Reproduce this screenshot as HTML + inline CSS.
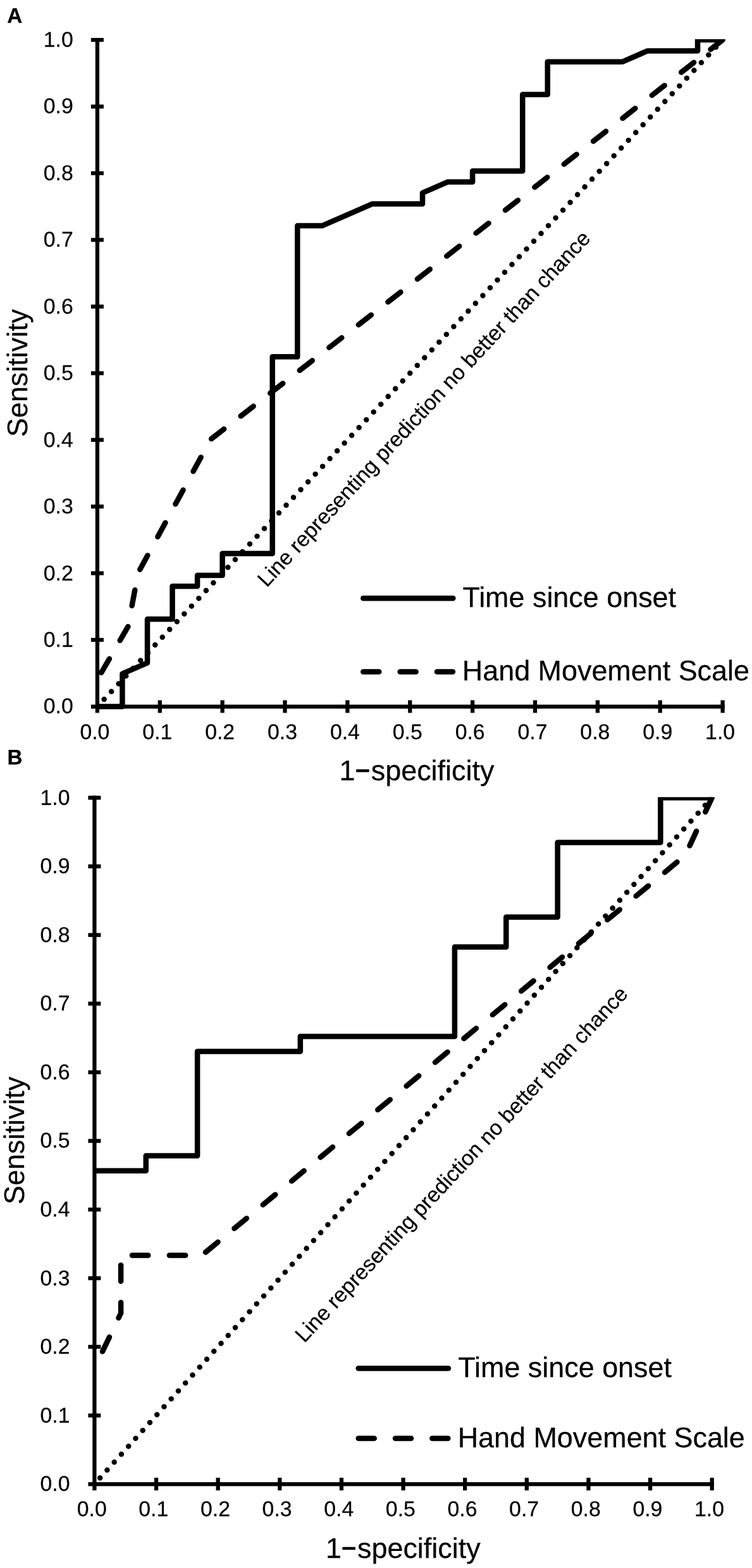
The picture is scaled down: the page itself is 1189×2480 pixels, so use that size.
<!DOCTYPE html>
<html><head><meta charset="utf-8"><title>ROC curves</title>
<style>
html,body{margin:0;padding:0;background:#fff;}
svg{display:block;}
text{font-family:"Liberation Sans", sans-serif;fill:#000;text-rendering:geometricPrecision;stroke:#000;stroke-width:0.25px;}
</style></head><body>
<svg width="1189" height="2480" viewBox="0 0 1189 2480">
<rect width="1189" height="2480" fill="#fff"/>
<clipPath id="clipA"><rect x="0" y="62" width="1189" height="1200"/></clipPath>
<g id="chartA">
<g clip-path="url(#clipA)">
<path d="M153.90 1117.50L1142.60 63.10" stroke="#000" stroke-width="8.5" stroke-linecap="round" stroke-dasharray="0.01 16.824" stroke-dashoffset="1.13" fill="none"/>
<path d="M160.20 1063.90 L202.40 991.20 L218.40 906.10 L333.00 695.00 L650.00 449.20 L1142.60 63.10" stroke="#000" stroke-width="8.5" stroke-linecap="round" stroke-linejoin="round" stroke-dasharray="25.3 33.6" fill="none"/>
<path d="M153.90 1117.50 L193.45 1117.50 L193.45 1065.64 L233.00 1048.36 L233.00 979.22 L272.54 979.22 L272.54 927.36 L312.09 927.36 L312.09 910.08 L351.64 910.08 L351.64 875.51 L430.74 875.51 L430.74 564.37 L470.28 564.37 L470.28 356.95 L509.83 356.95 L588.93 322.38 L668.02 322.38 L668.02 305.09 L707.57 287.81 L747.12 287.81 L747.12 270.52 L826.22 270.52 L826.22 149.53 L865.76 149.53 L865.76 97.67 L984.41 97.67 L1023.96 80.39 L1103.05 80.39 L1103.05 63.10 L1142.60 63.10" stroke="#000" stroke-width="8.5" stroke-linejoin="round" fill="none"/>
</g>
<path d="M153.90 59.97V1127.50" stroke="#000" stroke-width="6.25" fill="none"/>
<path d="M143.90 1117.50H1145.72" stroke="#000" stroke-width="6.25" fill="none"/>
<text x="115.80" y="1128.40" text-anchor="end" font-size="33.8">0.0</text>
<text x="149.90" y="1168.50" text-anchor="middle" font-size="33.8">0.0</text>
<path d="M143.90 1012.06h20" stroke="#000" stroke-width="6.25" fill="none"/>
<path d="M252.77 1107.50v20" stroke="#000" stroke-width="6.25" fill="none"/>
<text x="115.80" y="1022.96" text-anchor="end" font-size="33.8">0.1</text>
<text x="248.77" y="1168.50" text-anchor="middle" font-size="33.8">0.1</text>
<path d="M143.90 906.62h20" stroke="#000" stroke-width="6.25" fill="none"/>
<path d="M351.64 1107.50v20" stroke="#000" stroke-width="6.25" fill="none"/>
<text x="115.80" y="917.52" text-anchor="end" font-size="33.8">0.2</text>
<text x="347.64" y="1168.50" text-anchor="middle" font-size="33.8">0.2</text>
<path d="M143.90 801.18h20" stroke="#000" stroke-width="6.25" fill="none"/>
<path d="M450.51 1107.50v20" stroke="#000" stroke-width="6.25" fill="none"/>
<text x="115.80" y="812.08" text-anchor="end" font-size="33.8">0.3</text>
<text x="446.51" y="1168.50" text-anchor="middle" font-size="33.8">0.3</text>
<path d="M143.90 695.74h20" stroke="#000" stroke-width="6.25" fill="none"/>
<path d="M549.38 1107.50v20" stroke="#000" stroke-width="6.25" fill="none"/>
<text x="115.80" y="706.64" text-anchor="end" font-size="33.8">0.4</text>
<text x="545.38" y="1168.50" text-anchor="middle" font-size="33.8">0.4</text>
<path d="M143.90 590.30h20" stroke="#000" stroke-width="6.25" fill="none"/>
<path d="M648.25 1107.50v20" stroke="#000" stroke-width="6.25" fill="none"/>
<text x="115.80" y="601.20" text-anchor="end" font-size="33.8">0.5</text>
<text x="644.25" y="1168.50" text-anchor="middle" font-size="33.8">0.5</text>
<path d="M143.90 484.86h20" stroke="#000" stroke-width="6.25" fill="none"/>
<path d="M747.12 1107.50v20" stroke="#000" stroke-width="6.25" fill="none"/>
<text x="115.80" y="495.76" text-anchor="end" font-size="33.8">0.6</text>
<text x="743.12" y="1168.50" text-anchor="middle" font-size="33.8">0.6</text>
<path d="M143.90 379.42h20" stroke="#000" stroke-width="6.25" fill="none"/>
<path d="M845.99 1107.50v20" stroke="#000" stroke-width="6.25" fill="none"/>
<text x="115.80" y="390.32" text-anchor="end" font-size="33.8">0.7</text>
<text x="841.99" y="1168.50" text-anchor="middle" font-size="33.8">0.7</text>
<path d="M143.90 273.98h20" stroke="#000" stroke-width="6.25" fill="none"/>
<path d="M944.86 1107.50v20" stroke="#000" stroke-width="6.25" fill="none"/>
<text x="115.80" y="284.88" text-anchor="end" font-size="33.8">0.8</text>
<text x="940.86" y="1168.50" text-anchor="middle" font-size="33.8">0.8</text>
<path d="M143.90 168.54h20" stroke="#000" stroke-width="6.25" fill="none"/>
<path d="M1043.73 1107.50v20" stroke="#000" stroke-width="6.25" fill="none"/>
<text x="115.80" y="179.44" text-anchor="end" font-size="33.8">0.9</text>
<text x="1039.73" y="1168.50" text-anchor="middle" font-size="33.8">0.9</text>
<path d="M143.90 63.10h20" stroke="#000" stroke-width="6.25" fill="none"/>
<path d="M1142.60 1107.50v20" stroke="#000" stroke-width="6.25" fill="none"/>
<text x="115.80" y="74.00" text-anchor="end" font-size="33.8">1.0</text>
<text x="1138.60" y="1168.50" text-anchor="middle" font-size="33.8">1.0</text>
<text x="11.2" y="35.7" font-size="33.3" font-weight="bold">A</text>
<text transform="translate(43 691) rotate(-90)" font-size="44.9">Sensitivity</text>
<text x="536.6" y="1233.6" font-size="44.9">1<tspan font-size="39" dy="-2" dx="0.5" stroke-width="1.6">−</tspan><tspan dy="2" dx="1.9">specificity</tspan></text>
<text transform="translate(421.85 930) rotate(-47.05)" font-size="33.8">Line representing prediction no better than chance</text>
<path d="M574.3 946.3H716.3" stroke="#000" stroke-width="8.5" stroke-linecap="round" fill="none"/>
<path d="M574.3 1062.4H716.3" stroke="#000" stroke-width="8.5" stroke-linecap="round" stroke-dasharray="25 33.33" fill="none"/>
<text x="731.4" y="959.8" font-size="44.9">Time since onset</text>
<text x="730.8" y="1076.2" font-size="44.9">Hand Movement Scale</text>
</g>
<clipPath id="clipB"><rect x="0" y="1260.8" width="1189" height="1200"/></clipPath>
<g id="chartB">
<g clip-path="url(#clipB)">
<path d="M149.40 2347.30L1125.70 1261.70" stroke="#000" stroke-width="8.5" stroke-linecap="round" stroke-dasharray="0.01 16.824" stroke-dashoffset="3.76" fill="none"/>
<path d="M162.00 2137.60 L191.10 2077.00 L191.10 1985.40 L319.30 1985.40 L1083.30 1353.00 L1125.70 1261.70" stroke="#000" stroke-width="8.5" stroke-linecap="round" stroke-linejoin="round" stroke-dasharray="25.3 33.6" fill="none"/>
<path d="M149.40 1851.70 L230.76 1851.70 L230.76 1828.10 L312.12 1828.10 L312.12 1662.90 L474.83 1662.90 L474.83 1639.30 L718.91 1639.30 L718.91 1497.70 L800.27 1497.70 L800.27 1450.50 L881.62 1450.50 L881.62 1332.50 L1044.34 1332.50 L1044.34 1261.70 L1125.70 1261.70" stroke="#000" stroke-width="8.5" stroke-linejoin="round" fill="none"/>
</g>
<path d="M149.40 1258.58V2357.30" stroke="#000" stroke-width="6.25" fill="none"/>
<path d="M139.40 2347.30H1128.83" stroke="#000" stroke-width="6.25" fill="none"/>
<text x="110.50" y="2358.20" text-anchor="end" font-size="33.8">0.0</text>
<text x="145.20" y="2398.30" text-anchor="middle" font-size="33.8">0.0</text>
<path d="M139.40 2238.74h20" stroke="#000" stroke-width="6.25" fill="none"/>
<path d="M247.03 2337.30v20" stroke="#000" stroke-width="6.25" fill="none"/>
<text x="110.50" y="2249.64" text-anchor="end" font-size="33.8">0.1</text>
<text x="242.83" y="2398.30" text-anchor="middle" font-size="33.8">0.1</text>
<path d="M139.40 2130.18h20" stroke="#000" stroke-width="6.25" fill="none"/>
<path d="M344.66 2337.30v20" stroke="#000" stroke-width="6.25" fill="none"/>
<text x="110.50" y="2141.08" text-anchor="end" font-size="33.8">0.2</text>
<text x="340.46" y="2398.30" text-anchor="middle" font-size="33.8">0.2</text>
<path d="M139.40 2021.62h20" stroke="#000" stroke-width="6.25" fill="none"/>
<path d="M442.29 2337.30v20" stroke="#000" stroke-width="6.25" fill="none"/>
<text x="110.50" y="2032.52" text-anchor="end" font-size="33.8">0.3</text>
<text x="438.09" y="2398.30" text-anchor="middle" font-size="33.8">0.3</text>
<path d="M139.40 1913.06h20" stroke="#000" stroke-width="6.25" fill="none"/>
<path d="M539.92 2337.30v20" stroke="#000" stroke-width="6.25" fill="none"/>
<text x="110.50" y="1923.96" text-anchor="end" font-size="33.8">0.4</text>
<text x="535.72" y="2398.30" text-anchor="middle" font-size="33.8">0.4</text>
<path d="M139.40 1804.50h20" stroke="#000" stroke-width="6.25" fill="none"/>
<path d="M637.55 2337.30v20" stroke="#000" stroke-width="6.25" fill="none"/>
<text x="110.50" y="1815.40" text-anchor="end" font-size="33.8">0.5</text>
<text x="633.35" y="2398.30" text-anchor="middle" font-size="33.8">0.5</text>
<path d="M139.40 1695.94h20" stroke="#000" stroke-width="6.25" fill="none"/>
<path d="M735.18 2337.30v20" stroke="#000" stroke-width="6.25" fill="none"/>
<text x="110.50" y="1706.84" text-anchor="end" font-size="33.8">0.6</text>
<text x="730.98" y="2398.30" text-anchor="middle" font-size="33.8">0.6</text>
<path d="M139.40 1587.38h20" stroke="#000" stroke-width="6.25" fill="none"/>
<path d="M832.81 2337.30v20" stroke="#000" stroke-width="6.25" fill="none"/>
<text x="110.50" y="1598.28" text-anchor="end" font-size="33.8">0.7</text>
<text x="828.61" y="2398.30" text-anchor="middle" font-size="33.8">0.7</text>
<path d="M139.40 1478.82h20" stroke="#000" stroke-width="6.25" fill="none"/>
<path d="M930.44 2337.30v20" stroke="#000" stroke-width="6.25" fill="none"/>
<text x="110.50" y="1489.72" text-anchor="end" font-size="33.8">0.8</text>
<text x="926.24" y="2398.30" text-anchor="middle" font-size="33.8">0.8</text>
<path d="M139.40 1370.26h20" stroke="#000" stroke-width="6.25" fill="none"/>
<path d="M1028.07 2337.30v20" stroke="#000" stroke-width="6.25" fill="none"/>
<text x="110.50" y="1381.16" text-anchor="end" font-size="33.8">0.9</text>
<text x="1023.87" y="2398.30" text-anchor="middle" font-size="33.8">0.9</text>
<path d="M139.40 1261.70h20" stroke="#000" stroke-width="6.25" fill="none"/>
<path d="M1125.70 2337.30v20" stroke="#000" stroke-width="6.25" fill="none"/>
<text x="110.50" y="1272.60" text-anchor="end" font-size="33.8">1.0</text>
<text x="1121.50" y="2398.30" text-anchor="middle" font-size="33.8">1.0</text>
<text x="11.5" y="1208.9" font-size="33.3" font-weight="bold">B</text>
<text transform="translate(37.8 1905) rotate(-90)" font-size="44.9">Sensitivity</text>
<text x="514.9" y="2463.6" font-size="44.9">1<tspan font-size="39" dy="-2" dx="0.5" stroke-width="1.6">−</tspan><tspan dy="2" dx="1.9">specificity</tspan></text>
<text transform="translate(481.2 2124.9) rotate(-47.05)" font-size="33.8">Line representing prediction no better than chance</text>
<path d="M566.7 2164.3H708.9" stroke="#000" stroke-width="8.5" stroke-linecap="round" fill="none"/>
<path d="M566.7 2274.9H708.9" stroke="#000" stroke-width="8.5" stroke-linecap="round" stroke-dasharray="25 33.33" fill="none"/>
<text x="724.3" y="2178.1" font-size="44.9">Time since onset</text>
<text x="723.7" y="2289" font-size="44.9">Hand Movement Scale</text>
</g>
</svg>
</body></html>
